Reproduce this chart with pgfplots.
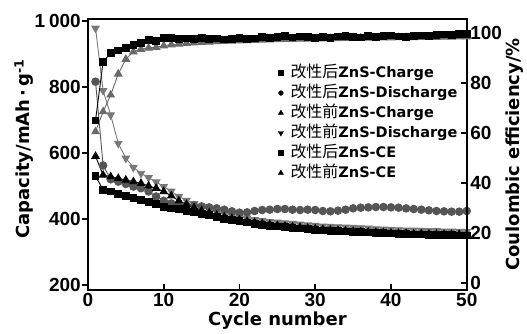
\documentclass[border=0pt]{standalone}
\usepackage{fontspec}
\setmainfont{Liberation Sans}
\newfontfamily\dv{DejaVu Sans}
\newfontfamily\cjk{Noto Sans CJK SC}
\usepackage{pgfplots}
\usepackage{pgfplotstable}
\pgfplotsset{compat=1.18}
\definecolor{gCirc}{RGB}{85,85,85}
\definecolor{gDown}{RGB}{120,120,120}
\definecolor{gUp}{RGB}{105,105,105}

\pgfplotstableread{
c chA disA chB disB ceA ceB
1 530 816 590 978 65.0 60.5
2 488 562 533 789 88.5 68.5
3 483 520 528 715 92.0 75.2
4 476 513 523 629 93.0 83.6
5 470 506 518 584 94.0 89.5
6 463 498 513 556 95.2 92.5
7 458 493 508 538 95.9 93.5
8 451 483 500 525 97.2 94.0
9 445 468 493 512 96.9 94.3
10 437 455 483 498 98.1 94.9
11 432 447 470 484 98.1 95.3
12 429 442 455 468 97.6 95.6
13 425 440 444 456 97.8 95.9
14 420 440 434 446 97.5 96.1
15 416 438 425 437 97.9 96.3
16 411 435 418 429 97.6 96.4
17 406 432 411 421 97.8 96.6
18 401 428 406 415 97.4 96.7
19 397 423 401 410 97.7 96.8
20 393 419 397 406 97.9 96.9
21 389 420 393 402 97.5 97.0
22 385 424 389 398 97.8 97.1
23 382 427 386 395 98.3 97.2
24 379 428 383 392 98.1 97.3
25 377 430 380 390 98.5 97.4
26 375 430 378 388 98.7 97.5
27 373 428 376 386 98.2 97.5
28 371 427 374 384 98.6 97.6
29 369 428 372 382 98.3 97.6
30 367 427 370 380 98.0 97.7
31 365 424 368 378 98.4 97.7
32 364 423 366 377 98.1 97.8
33 363 425 365 376 98.6 97.8
34 362 428 364 375 98.8 97.9
35 361 432 362 374 98.3 97.9
36 360 434 361 373 98.2 98.0
37 359 435 360 372 98.9 98.0
38 358 436 359 370 98.5 98.0
39 357 436 358 369 98.7 98.1
40 356 435 357 368 99.0 98.1
41 355 434 356 367 98.6 98.2
42 354 432 356 366 98.4 98.2
43 353 430 355 366 98.8 98.2
44 353 428 355 365 99.0 98.3
45 352 426 354 364 98.7 98.3
46 352 424 354 364 99.2 98.3
47 351 423 353 363 99.4 98.4
48 351 422 353 363 99.1 98.4
49 350 422 353 362 99.5 98.5
50 350 424 352 362 99.6 98.5
}\datatable

\newcommand{\lfont}{\dv\bfseries\fontsize{18}{20}\selectfont}
\newcommand{\cn}[1]{{\cjk\fontsize{16}{18}\selectfont #1}}
\newcommand{\lt}[1]{{\dv\bfseries\fontsize{14.5}{16}\selectfont #1}}

\begin{document}
\begin{tikzpicture}
\pgfplotsset{
  every axis/.append style={
    scale only axis, width=379pt, height=271pt,
    at={(0pt,0pt)}, anchor=south west,
    xmin=0, xmax=50,
    /pgf/number format/assume math mode=true,
    tick label style={font=\fontsize{19}{21}\selectfont\bfseries},
    axis line style={line width=2.2pt},
    major tick length=6pt,
    every tick/.style={black, line width=1.8pt},
  },
}
\begin{axis}[
  ymin=185, ymax=1006,
  ytick={200,400,600,800,1000},
  yticklabels={200,400,600,800,1\hspace{4pt}000},
  xtick=\empty,
  ytick pos=left,
  tick align=outside,
  yticklabel style={inner sep=1pt},
  every axis y label/.style={at={(axis description cs:-0.153,0.52)}, anchor=base, rotate=90, font=\lfont},
  ylabel={Capacity/mAh\,·\,g\textsuperscript{-1}},
]
\addplot[gDown, line width=0.9pt, mark=triangle*, mark size=4.2pt, mark options={rotate=180}] table[x=c, y=disB] {\datatable};
\addplot[gCirc, line width=0.9pt, mark=*, mark size=3.8pt] table[x=c, y=disA] {\datatable};
\addplot[black, line width=0.9pt, mark=triangle*, mark size=4.2pt] table[x=c, y=chB] {\datatable};
\addplot[black, line width=0.9pt, mark=square*, mark size=3.4pt] table[x=c, y=chA] {\datatable};
\end{axis}
\begin{axis}[
  ymin=-2.8, ymax=105.6,
  axis y line*=right, axis x line*=bottom,
  ytick={0,20,40,60,80,100},
  xtick={0,10,20,30,40,50},
  tick align=inside,
  every axis y label/.style={at={(axis description cs:1.140,0.5)}, anchor=base, rotate=90, font=\lfont},
  every axis x label/.style={at={(axis description cs:0.5,-0.133)}, anchor=base, font=\lfont},
  xlabel={Cycle number},
  ylabel={Coulombic efficiency/\%},
  legend style={at={(axis description cs:0.502,0.838)}, anchor=north west, draw=none, fill=none,
    inner sep=0pt, row sep=0pt,
    nodes={inner sep=2pt, text height=12pt, text depth=4pt},
    /tikz/every odd column/.append style={column sep=5pt}},
  legend cell align=left,
]
\addlegendimage{only marks, black, mark=square*, mark size=2.4pt}
\addlegendentry{\cn{改性后}\lt{ZnS-Charge}}
\addlegendimage{only marks, black, mark=*, mark size=2.4pt}
\addlegendentry{\cn{改性后}\lt{ZnS-Discharge}}
\addlegendimage{only marks, black, mark=triangle*, mark size=3pt}
\addlegendentry{\cn{改性前}\lt{ZnS-Charge}}
\addlegendimage{only marks, black, mark=triangle*, mark size=3pt, mark options={rotate=180}}
\addlegendentry{\cn{改性前}\lt{ZnS-Discharge}}
\addlegendimage{only marks, black, mark=square*, mark size=2.4pt}
\addlegendentry{\cn{改性后}\lt{ZnS-CE}}
\addlegendimage{only marks, black, mark=triangle*, mark size=3pt}
\addlegendentry{\cn{改性前}\lt{ZnS-CE}}
\addplot[gUp, line width=0.9pt, mark=triangle*, mark size=4.2pt, forget plot] table[x=c, y=ceB] {\datatable};
\addplot[black, line width=0.9pt, mark=square*, mark size=3.4pt, forget plot] table[x=c, y=ceA] {\datatable};
\end{axis}
\path (-88pt,-42pt) rectangle (439pt,290pt);
\end{tikzpicture}
\end{document}
